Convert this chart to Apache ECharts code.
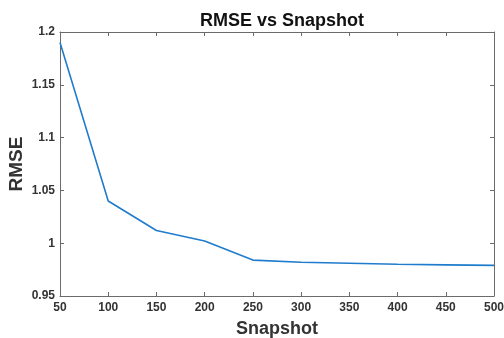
<!DOCTYPE html>
<html>
<head>
<meta charset="utf-8">
<script src="https://cdn.jsdelivr.net/npm/echarts@6/dist/echarts.min.js"></script>
<style>
  html, body { margin: 0; padding: 0; background: #fff; }
  #chart { width: 504px; height: 338px; }
</style>
</head>
<body>
<div id="chart"></div>
<script>
// values
const snapshots = [50, 100, 150, 200, 250, 300, 350, 400, 450, 500];
const rmse = [1.190, 1.040, 1.012, 1.002, 0.984, 0.982, 0.981, 0.980, 0.9795, 0.979];
const xTicks = { min: 50, max: 500, step: 50 };
const yTicks = { min: 0.95, max: 1.2, step: 0.05 };

const axisColor = '#6b6b6b';
const labelColor = '#333';
const font = 'Liberation Sans, Arial, sans-serif';

const chart = echarts.init(document.getElementById('chart'));

const baseX = {
  type: 'value',
  min: xTicks.min,
  max: xTicks.max,
  interval: xTicks.step,
  splitLine: { show: false },
  axisLine: { show: true, onZero: false, lineStyle: { color: axisColor, width: 1 } },
  axisTick: { show: true, inside: true, length: 4, lineStyle: { color: axisColor } }
};
const baseY = {
  type: 'value',
  min: yTicks.min,
  max: yTicks.max,
  interval: yTicks.step,
  splitLine: { show: false },
  axisLine: { show: true, onZero: false, lineStyle: { color: axisColor, width: 1 } },
  axisTick: { show: true, inside: true, length: 4, lineStyle: { color: axisColor } }
};

chart.setOption({
  animation: false,
  title: {
    text: 'RMSE vs Snapshot',
    left: 277,
    top: 7,
    textAlign: 'center',
    textStyle: { fontFamily: font, fontSize: 18, fontWeight: 'bold', color: '#111' }
  },
  grid: { left: 60, right: 10, top: 32, bottom: 42, outerBoundsMode: 'none', containLabel: false },
  xAxis: [
    Object.assign({}, baseX, {
      position: 'bottom',
      name: 'Snapshot',
      nameLocation: 'middle',
      nameGap: 24,
      nameMoveOverlap: false,
      nameTextStyle: { fontFamily: font, fontSize: 18, fontWeight: 'bold', color: '#333' },
      axisLabel: {
        fontFamily: font, fontSize: 12, fontWeight: 'bold', color: labelColor, margin: 6,
        formatter: v => String(v)
      }
    }),
    Object.assign({}, baseX, { position: 'top', axisLabel: { show: false } })
  ],
  yAxis: [
    Object.assign({}, baseY, {
      position: 'left',
      name: 'RMSE',
      nameLocation: 'middle',
      nameGap: 34,
      nameMoveOverlap: false,
      nameTextStyle: { fontFamily: font, fontSize: 19, fontWeight: 'bold', color: '#333' },
      axisLabel: {
        fontFamily: font, fontSize: 12, fontWeight: 'bold', color: labelColor, margin: 5,
        formatter: v => String(Math.round(v * 100) / 100)
      }
    }),
    Object.assign({}, baseY, { position: 'right', axisLabel: { show: false } })
  ],
  series: [{
    type: 'line',
    xAxisIndex: 0,
    yAxisIndex: 0,
    data: snapshots.map((s, i) => [s, rmse[i]]),
    symbol: 'none',
    lineStyle: { color: '#1f7ccc', width: 1.6 }
  }]
});
</script>
</body>
</html>
